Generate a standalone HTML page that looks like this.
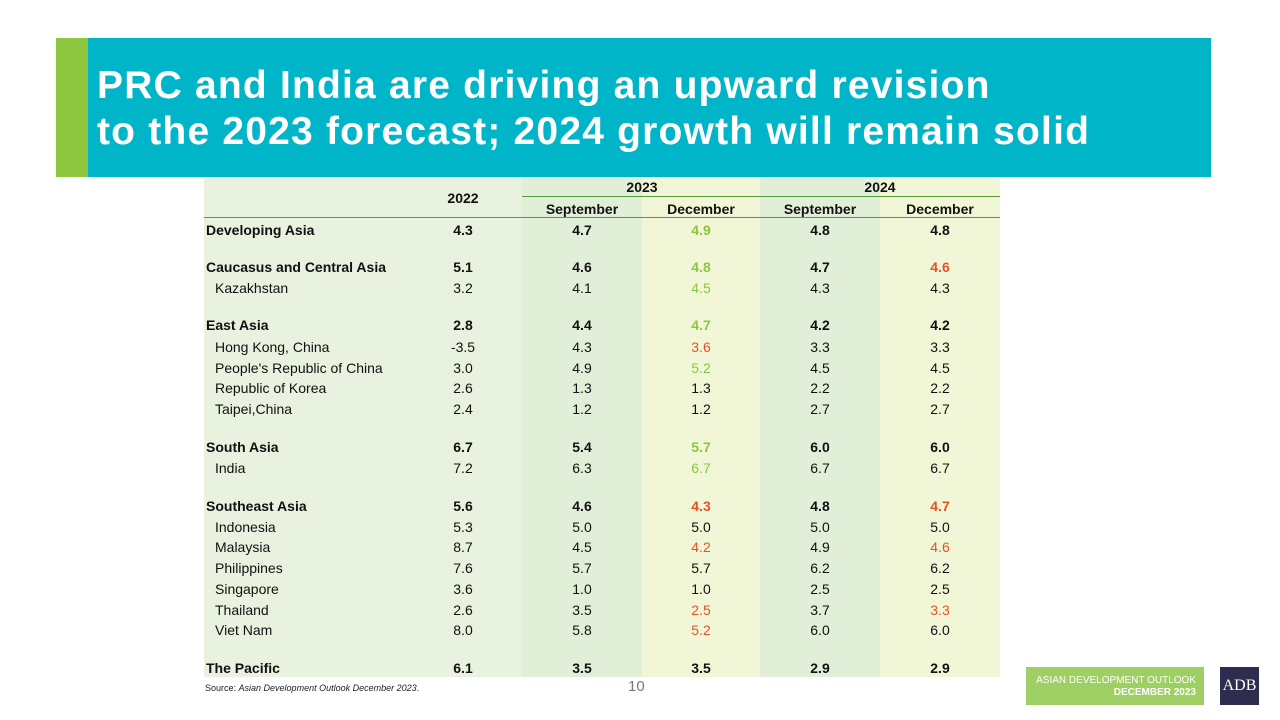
<!DOCTYPE html>
<html><head><meta charset="utf-8"><style>
body{margin:0;width:1280px;height:720px;background:#fff;position:relative;overflow:hidden;font-family:"Liberation Sans",sans-serif}
.abs{position:absolute}
.col{position:absolute;top:178px;height:499px}
.c{position:absolute;font-size:14px;color:#111;text-align:center;line-height:18px}
.b{font-weight:bold}
.g{color:#8cc63f}.r{color:#e8502a}
</style></head><body>
<div class="abs" style="left:56px;top:38px;width:32px;height:139px;background:#8dc63f"></div>
<div class="abs" style="left:88px;top:38px;width:1123px;height:139px;background:#00b5c8"></div>
<div class="abs" style="left:97px;top:63px;color:#fff;font-weight:bold;font-size:39px;line-height:46px;letter-spacing:1.2px;white-space:nowrap">PRC and India are driving an upward revision<br>to the 2023 forecast; 2024 growth will remain solid</div>

<div class="col" style="left:204px;width:796px;background:#e8f2de"></div>
<div class="col" style="left:522px;width:120px;background:#e2efd8"></div>
<div class="col" style="left:642px;width:118px;background:#f1f7d6"></div>
<div class="col" style="left:760px;width:120px;background:#e2efd8"></div>
<div class="col" style="left:880px;width:120px;background:#f1f7d6"></div>
<div class="abs" style="left:522px;top:196px;width:478px;height:1px;background:#5a9a3a"></div>
<div class="abs" style="left:204px;top:217px;width:796px;height:1px;background:#5a9a3a"></div>

<div id="tbl"></div>

<div class="abs" style="left:205px;top:683px;font-size:9px;color:#222">Source: <i>Asian Development Outlook December 2023</i>.</div>
<div class="abs" style="left:628px;top:678px;font-size:15px;color:#777">10</div>
<div class="abs" style="left:1026px;top:667px;width:178px;height:38px;background:#9dcf63;color:#fff;font-size:10px;text-align:right;line-height:12px;box-sizing:border-box;padding:8px 8px 0 0">ASIAN DEVELOPMENT OUTLOOK<br><b>DECEMBER 2023</b></div>
<div class="abs" style="left:1220px;top:667px;width:39px;height:38px;background:#2e2c4f;color:#fff;font-family:'Liberation Serif',serif;font-size:16px;text-align:center;line-height:38px">ADB</div>

<script>
const xs=[582,701,820,940];
const rows=[
["Developing Asia",1,230,["4.3","4.7","4.9g","4.8","4.8"]],
["Caucasus and Central Asia",1,267,["5.1","4.6","4.8g","4.7","4.6r"]],
["Kazakhstan",0,288,["3.2","4.1","4.5g","4.3","4.3"]],
["East Asia",1,325,["2.8","4.4","4.7g","4.2","4.2"]],
["Hong Kong, China",0,347,["-3.5","4.3","3.6r","3.3","3.3"]],
["People's Republic of China",0,368,["3.0","4.9","5.2g","4.5","4.5"]],
["Republic of Korea",0,388,["2.6","1.3","1.3","2.2","2.2"]],
["Taipei,China",0,409,["2.4","1.2","1.2","2.7","2.7"]],
["South Asia",1,447,["6.7","5.4","5.7g","6.0","6.0"]],
["India",0,468,["7.2","6.3","6.7g","6.7","6.7"]],
["Southeast Asia",1,506,["5.6","4.6","4.3r","4.8","4.7r"]],
["Indonesia",0,527,["5.3","5.0","5.0","5.0","5.0"]],
["Malaysia",0,547,["8.7","4.5","4.2r","4.9","4.6r"]],
["Philippines",0,568,["7.6","5.7","5.7","6.2","6.2"]],
["Singapore",0,589,["3.6","1.0","1.0","2.5","2.5"]],
["Thailand",0,610,["2.6","3.5","2.5r","3.7","3.3r"]],
["Viet Nam",0,630,["8.0","5.8","5.2r","6.0","6.0"]],
["The Pacific",1,668,["6.1","3.5","3.5","2.9","2.9"]]];
const t=document.getElementById('tbl');
function add(txt,x,y,cls,align){const d=document.createElement('div');d.className='c '+cls;d.textContent=txt;
if(align==='l'){d.style.left=x+'px';d.style.textAlign='left';}else{d.style.left=(x-60)+'px';d.style.width='120px';}
d.style.top=(y-9)+'px';


t.appendChild(d);}
add('2022',463,198,'b','c');add('2023',642,187,'b','c');add('2024',880,187,'b','c');
add('September',582,209,'b','c');add('December',701,209,'b','c');add('September',820,209,'b','c');add('December',940,209,'b','c');
rows.forEach(r=>{add(r[0],r[1]?206:215,r[2],r[1]?'b':'','l');
r[3].forEach((v,i)=>{let cls=r[1]?'b':'';const l=v.slice(-1);if(l==='g'||l==='r'){cls+=' '+l;v=v.slice(0,-1);}
add(v,i===0?463:xs[i-1],r[2],cls,'c');});});
</script>
</body></html>
